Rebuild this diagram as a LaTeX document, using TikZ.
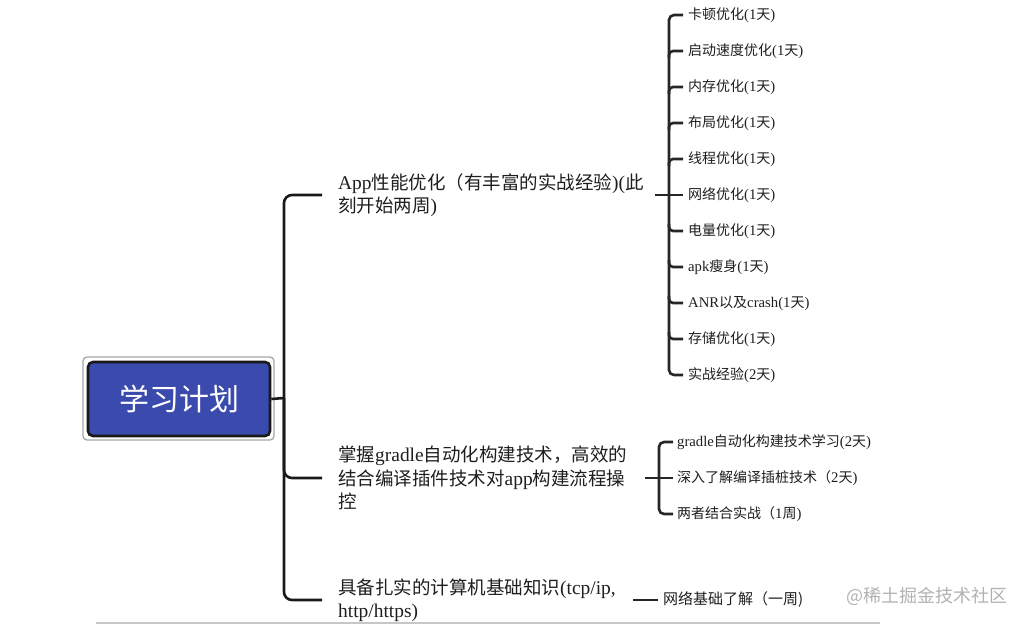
\documentclass[tikz,border=0pt]{standalone}
\usepackage{fontspec}
\setmainfont{Noto Sans CJK SC}
\newfontfamily\lat[Scale=1.05]{Liberation Serif}
\usetikzlibrary{positioning}
\usetikzlibrary{calc}
\definecolor{planblue}{RGB}{59,74,173}
\definecolor{inkgray}{RGB}{30,30,30}
\newcommand\plandays[1]{{\lat(#1}天{\lat)}}
\tikzset{
    rootbox/.style = {rectangle, rounded corners=5pt, line width=2.6pt, draw=black!90, fill=planblue, text=white, minimum width=182pt, minimum height=74pt, font=\fontsize{30}{36}\selectfont},
    rootframe/.style = {rectangle, rounded corners=4pt, draw=black!35, line width=1.3pt, minimum width=191pt, minimum height=83pt},
    topic/.style = {inner sep=0pt, anchor=west, align=left, text=inkgray, font=\fontsize{18.5}{23.5}\selectfont},
    leaf/.style = {inner sep=0pt, anchor=west, text=inkgray, font=\fontsize{14}{17}\selectfont},
    link/.style = {line width=2.6pt, draw=black!90, rounded corners=8pt}, % main branches
    twig/.style = {line width=2.6pt, draw=black!85, rounded corners=5pt}, % leaves
    stub/.style = {line width=2.6pt, draw=black!85, rounded corners=4pt}
}
\begin{document}
\begin{tikzpicture}[x=1pt,y=-1pt]
\useasboundingbox (0,0) rectangle (1022,624);
%
\node[rootframe] at (178.5,398.5) (frame) {};
\node[rootbox] at (179,399) (root) {学习计划};
%
\node[topic, text width=310pt] at (338,195) (perf) {{\lat App}性能优化（有丰富的实战经验{\lat )(}此\\刻开始两周{\lat )}};
\node[topic, text width=300pt] at (338,478) (gradle) {掌握{\lat gradle}自动化构建技术，高效的\\结合编译插件技术对{\lat app}构建流程操\\控};
\node[topic, text width=290pt] at (338,600) (basic) {具备扎实的计算机基础知识{\lat (tcp/ip,}\\{\lat http/https)}};
%
\coordinate (hub) at (284,398);
\draw[link] (root.east) -- (hub);
\draw[link, shorten >=16pt] (hub) |- (perf.west);
\draw[link, shorten >=16pt] (hub) |- (gradle.west);
\draw[link, shorten >=16pt] (hub) |- (basic.west);
%
\foreach \txt [count=\i] in {卡顿优化\plandays{1}, 启动速度优化\plandays{1}, 内存优化\plandays{1}, 布局优化\plandays{1}, 线程优化\plandays{1}, 网络优化\plandays{1}, 电量优化\plandays{1}, {{\lat apk}瘦身\plandays{1}}, {{\lat ANR}以及{\lat crash}\plandays{1}}, 存储优化\plandays{1}, 实战经验\plandays{2}}
    \node[leaf] at (688,{15+36*(\i-1)}) (l\i) {\txt};
\coordinate (k1) at (669,195);
\draw[twig, shorten <=7pt, shorten >=5pt] (perf.east) -- (l6.west);
\draw[twig, shorten >=5pt] (k1) |- (l1.west);
\draw[twig, shorten >=5pt] (k1) |- (l11.west);
\foreach \i in {2,...,5}
    \draw[stub, shorten >=5pt] ($(k1|-l\i.west)+(0,7)$) |- (l\i.west);
\foreach \i in {7,...,10}
    \draw[stub, shorten >=5pt] ($(k1|-l\i.west)+(0,-7)$) |- (l\i.west);
%
\node[leaf] at (677,442) (g1) {{\lat gradle}自动化构建技术学习\plandays{2}};
\node[leaf] at (677,478) (g2) {深入了解编译插桩技术（{\lat 2}天{\lat )}};
\node[leaf] at (677,514) (g3) {两者结合实战（{\lat 1}周{\lat )}};
\coordinate (k2) at (659,478);
\draw[twig, shorten <=7pt, shorten >=4pt] (gradle.east) -- (g2.west);
\draw[twig, shorten >=4pt] (k2) |- (g1.west);
\draw[twig, shorten >=4pt] (k2) |- (g3.west);
%
\node[leaf, font=\fontsize{15}{17}\selectfont] at (663,600) (net) {网络基础了解（一周)};
\draw[twig, shorten <=5pt, shorten >=5pt] (basic.east) -- (net.west);
%
\node[anchor=west, text=black!30, font=\fontsize{18}{20}\selectfont] at (843,596) (mark) {@稀土掘金技术社区};
\draw[black!22, line width=1.5pt] (96,622.8) -- (880,622.8);
\end{tikzpicture}
\end{document}
